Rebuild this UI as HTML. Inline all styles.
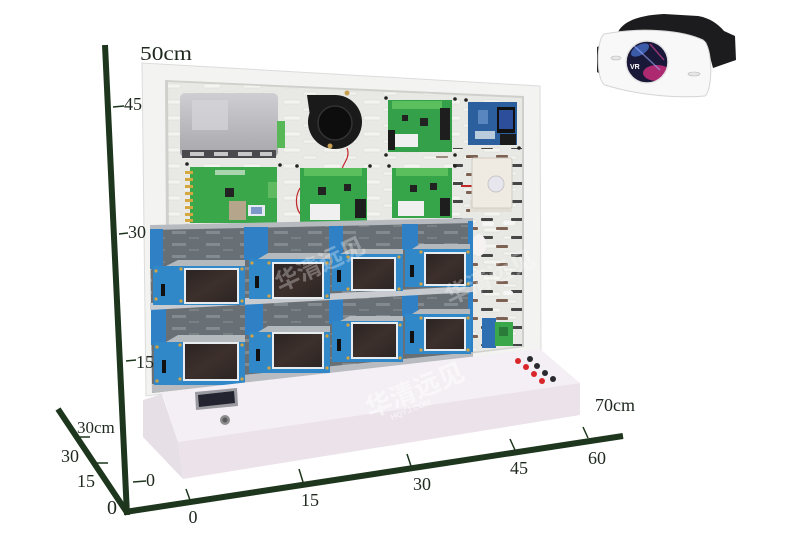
<!DOCTYPE html>
<html><head><meta charset="utf-8"><style>
html,body{margin:0;padding:0;background:#fff;width:800px;height:542px;overflow:hidden}
svg{display:block}
.ax{font-family:"Liberation Serif","Noto Serif CJK SC",serif;fill:#1f291f}
.wm{font-family:"Liberation Sans","Noto Sans CJK SC",sans-serif;font-weight:bold;fill:#ffffff}
</style></head><body>
<svg width="800" height="542" viewBox="0 0 800 542" xmlns="http://www.w3.org/2000/svg">
<defs>
<pattern id="lslot" width="40" height="16" patternUnits="userSpaceOnUse">
<rect x="3" y="4" width="18" height="4" rx="2" fill="#f3f3ef" stroke="#d8d8d4" stroke-width="0.5"/>
<rect x="23" y="12" width="14" height="3" rx="1.5" fill="#f3f3ef" stroke="#d8d8d4" stroke-width="0.5"/>
</pattern>
<pattern id="dslot" width="30" height="18" patternUnits="userSpaceOnUse">
<rect x="1" y="2" width="12" height="3" rx="1" fill="#2a2a2a"/>
<rect x="16" y="11" width="12" height="3" rx="1" fill="#6a4a3a"/>
</pattern>
<pattern id="rslot" width="34" height="12" patternUnits="userSpaceOnUse">
<rect x="2" y="3" width="14" height="3" fill="#b9bec2"/>
<rect x="19" y="9" width="10" height="2" fill="#9aa0a4"/>
</pattern>
<linearGradient id="box" x1="0" y1="0" x2="0" y2="1">
<stop offset="0" stop-color="#cfcfd3"/><stop offset="1" stop-color="#a6a6ab"/>
</linearGradient>
<linearGradient id="scr" x1="0" y1="0" x2="1" y2="1">
<stop offset="0" stop-color="#2a2322"/><stop offset="0.5" stop-color="#3d302c"/><stop offset="1" stop-color="#2b2523"/>
</linearGradient>
<clipPath id="lens"><circle cx="647" cy="62" r="21"/></clipPath>
</defs>

<!-- VR headset -->
<path d="M618,32 C624,20 642,15 664,14 L698,16 C710,18 718,24 724,31 L735,36 L736,60 L713,68 L706,42 Z" fill="#1c1c1e"/>
<path d="M597,47 L604,44 L604,76 L597,72 Z" fill="#2a2a2a"/>
<path d="M604,34 C640,27 682,30 703,40 C713,46 713,90 705,96 C670,99 630,93 605,85 C596,81 596,40 604,34 Z" fill="#f8f8f8" stroke="#d4d4d4" stroke-width="1"/>
<circle cx="647" cy="62" r="21" fill="#191838"/>
<g clip-path="url(#lens)">
<ellipse cx="657" cy="73" rx="14" ry="8" fill="#d2307f" opacity="0.8"/>
<ellipse cx="640" cy="50" rx="10" ry="5" fill="#4a78d8" opacity="0.7" transform="rotate(-30 640 50)"/>
<path d="M632,44 L660,70" stroke="#9ab0ff" stroke-width="1.5" opacity="0.6"/>
<path d="M650,44 L664,60" stroke="#e04a9a" stroke-width="1.5" opacity="0.6"/>
</g>
<circle cx="647" cy="62" r="21" fill="none" stroke="#e4e4e4" stroke-width="1.5"/>
<text x="630" y="69" font-family="Liberation Sans, sans-serif" font-size="7" font-weight="bold" fill="#fff">VR</text>
<ellipse cx="616" cy="58" rx="5" ry="2" fill="#e6e6e6" stroke="#bbb" stroke-width="0.6"/>
<ellipse cx="694" cy="74" rx="6" ry="2" fill="#e6e6e6" stroke="#bbb" stroke-width="0.6"/>

<!-- Frame -->
<polygon points="142,63 540,86 541,350 146,396" fill="#f3f3f1" stroke="#dcdcdc" stroke-width="1"/>
<polygon points="165,80 524,96 524,347 167,391" fill="#cfcfcc"/>
<polygon points="168,82 522,98 522,346 170,388" fill="#e8e8e4"/>
<polygon points="168,82 522,98 522,346 170,388" fill="url(#lslot)"/>
<rect x="453" y="148" width="69" height="198" fill="url(#dslot)" opacity="0.85"/>
<rect x="420" y="156" width="50" height="8" fill="url(#dslot)" opacity="0.6"/>

<!-- Gray box -->
<rect x="180" y="93" width="98" height="64" rx="5" fill="url(#box)"/>
<rect x="192" y="100" width="36" height="30" fill="#d6d6da" opacity="0.7"/>
<rect x="182" y="150" width="94" height="8" fill="#4a4a4e"/>
<rect x="190" y="152" width="14" height="4" fill="#c8c8c8"/>
<rect x="214" y="152" width="14" height="4" fill="#c8c8c8"/>
<rect x="238" y="152" width="14" height="4" fill="#c8c8c8"/>
<rect x="260" y="152" width="12" height="4" fill="#c8c8c8"/>
<rect x="277" y="121" width="8" height="27" fill="#58b858"/>

<!-- Fan -->
<polygon points="307,95 336,95 336,122 310,116" fill="#1a1a1a"/>
<circle cx="335" cy="122" r="27" fill="#1a1a1a"/>
<circle cx="335" cy="123" r="17" fill="#0d0d0d" stroke="#333" stroke-width="1.5"/>
<circle cx="347" cy="93" r="2.5" fill="#c8a050"/>
<circle cx="330" cy="146" r="2.5" fill="#c8a050"/>
<path d="M347,148 C351,158 342,164 342,170" stroke="#c0282a" stroke-width="1.2" fill="none"/>

<!-- Green board A (top) -->
<rect x="388" y="100" width="64" height="52" fill="#34a04a"/>
<rect x="392" y="101" width="50" height="8" fill="#5cbf5e"/>
<rect x="394" y="134" width="24" height="13" fill="#f0f0f0"/>
<rect x="420" y="118" width="8" height="8" fill="#222"/>
<rect x="402" y="115" width="6" height="6" fill="#222"/>
<rect x="440" y="108" width="10" height="32" fill="#1e1e1e"/>
<rect x="388" y="130" width="7" height="20" fill="#1a1a1a"/>
<!-- Blue board -->
<rect x="468" y="102" width="49" height="43" fill="#2c5f9e"/>
<rect x="497" y="107" width="18" height="26" fill="#111"/>
<rect x="499" y="110" width="14" height="19" fill="#2d4e9a"/>
<rect x="500" y="134" width="16" height="11" fill="#1a1a1a"/>
<rect x="475" y="131" width="20" height="8" fill="#dfe6ee" opacity="0.8"/>
<rect x="478" y="110" width="10" height="14" fill="#5a86c0"/>
<!-- Board B -->
<rect x="190" y="167" width="87" height="56" fill="#3aa84a"/>
<g fill="#d4a840">
<rect x="185" y="171" width="8" height="3"/><rect x="185" y="178" width="8" height="3"/><rect x="185" y="185" width="8" height="3"/>
<rect x="185" y="192" width="8" height="3"/><rect x="185" y="199" width="8" height="3"/><rect x="185" y="206" width="8" height="3"/>
<rect x="185" y="213" width="8" height="3"/><rect x="185" y="219" width="8" height="3"/>
</g>
<rect x="229" y="201" width="17" height="19" fill="#b5a58a"/>
<rect x="248" y="205" width="17" height="11" fill="#e4eaf0"/>
<rect x="251" y="207" width="11" height="7" fill="#7c98c8"/>
<rect x="225" y="188" width="9" height="9" fill="#222"/>
<rect x="268" y="182" width="9" height="16" fill="#60bb60"/>
<rect x="215" y="170" width="30" height="5" fill="#d8e8d8" opacity="0.7"/>
<!-- Board C -->
<path d="M300,188 C294,198 296,212 303,216" stroke="#c0282a" stroke-width="1.2" fill="none"/>
<rect x="300" y="168" width="67" height="54" fill="#36a449"/>
<rect x="304" y="168" width="58" height="8" fill="#5cbf5e"/>
<rect x="310" y="204" width="30" height="16" fill="#f0f0f0"/>
<rect x="318" y="187" width="8" height="8" fill="#222"/>
<rect x="344" y="184" width="7" height="7" fill="#222"/>
<rect x="355" y="199" width="11" height="19" fill="#1e1e1e"/>
<!-- Board D -->
<rect x="392" y="168" width="60" height="50" fill="#36a449"/>
<rect x="396" y="168" width="52" height="8" fill="#5cbf5e"/>
<rect x="398" y="201" width="26" height="15" fill="#f0f0f0"/>
<rect x="410" y="185" width="7" height="7" fill="#222"/>
<rect x="430" y="183" width="7" height="7" fill="#222"/>
<rect x="440" y="198" width="10" height="18" fill="#1e1e1e"/>
<!-- White sensor -->
<path d="M461,186 L474,186" stroke="#c0282a" stroke-width="2"/>
<rect x="470" y="200" width="42" height="12" fill="#e2ded6"/>
<rect x="472" y="158" width="40" height="50" rx="2" fill="#efebe3" stroke="#d0ccc2" stroke-width="1"/>
<circle cx="496" cy="184" r="8" fill="#e6e6ec" stroke="#c6c6cc" stroke-width="1"/>
<!-- screws -->
<g fill="#222">
<circle cx="386" cy="98" r="1.8"/><circle cx="455" cy="99" r="1.8"/><circle cx="386" cy="155" r="1.8"/><circle cx="455" cy="155" r="1.8"/>
<circle cx="187" cy="164" r="1.8"/><circle cx="280" cy="165" r="1.8"/><circle cx="187" cy="226" r="1.8"/><circle cx="281" cy="226" r="1.8"/>
<circle cx="297" cy="166" r="1.8"/><circle cx="370" cy="166" r="1.8"/><circle cx="389" cy="166" r="1.8"/><circle cx="455" cy="166" r="1.8"/>
<circle cx="466" cy="100" r="1.8"/><circle cx="519" cy="148" r="1.8"/>
</g>

<!-- Right side extras -->
<ellipse cx="479" cy="245" rx="7" ry="11" fill="#f6f2f2"/>
<rect x="482" y="318" width="14" height="30" fill="#2d6fb0"/>
<rect x="495" y="322" width="18" height="24" fill="#3aa84a"/>
<rect x="499" y="327" width="9" height="9" fill="#2a7a3a"/>
<rect x="482" y="222" width="12" height="4" rx="2" fill="#f6f6f6"/>
<rect x="503" y="221" width="12" height="4" rx="2" fill="#f6f6f6"/>
<rect x="503" y="291" width="10" height="4" rx="2" fill="#f6f6f6"/>

<!-- Rack -->
<polygon points="150,228 473,221 473,358 152,393" fill="#687075"/>
<polygon points="150,228 473,221 473,358 152,393" fill="url(#rslot)" opacity="0.35"/>
<polygon points="150,225 473,218 473,223 150,230" fill="#b7bbbf"/>
<g fill="#2f80c4">
<rect x="150" y="229" width="13" height="40"/><rect x="244" y="227" width="24" height="33"/>
<rect x="329" y="226" width="14" height="31"/><rect x="402" y="224" width="16" height="26"/>
<rect x="151" y="309" width="15" height="36"/><rect x="245" y="304" width="18" height="31"/>
<rect x="329" y="296" width="14" height="28"/><rect x="402" y="291" width="16" height="26"/>
<rect x="468" y="221" width="5" height="136"/>
</g>
<polygon points="150,303 473,286 473,292 150,310" fill="#c8ccd0"/>
<polygon points="152,384 473,352 473,358 152,393" fill="#b8bcc0"/>
<!-- module lids -->
<g fill="#b4b9bd">
<polygon points="166,266 178,260 245,260 245,266"/>
<polygon points="258,259 268,253 330,253 330,259"/>
<polygon points="340,254 350,249 403,249 403,254"/>
<polygon points="412,249 420,244 470,244 470,249"/>
<polygon points="166,342 178,335 245,335 245,342"/>
<polygon points="258,332 268,326 330,326 330,332"/>
<polygon points="340,321 350,316 403,316 403,321"/>
<polygon points="412,314 420,309 470,309 470,314"/>
</g>
<!-- blue fronts -->
<g fill="#3188c9">
<rect x="153" y="266" width="92" height="39"/>
<rect x="249" y="259" width="81" height="40"/>
<rect x="332" y="254" width="71" height="37"/>
<rect x="405" y="249" width="66" height="38"/>
<rect x="154" y="342" width="91" height="43"/>
<rect x="249" y="332" width="81" height="41"/>
<rect x="332" y="321" width="71" height="41"/>
<rect x="405" y="314" width="66" height="40"/>
</g>
<g fill="url(#scr)" stroke="#e6ecf0" stroke-width="2">
<rect x="185" y="269" width="53" height="34"/>
<rect x="273" y="263" width="50" height="35"/>
<rect x="352" y="258" width="43" height="32"/>
<rect x="425" y="253" width="40" height="32"/>
<rect x="184" y="343" width="54" height="37"/>
<rect x="273" y="333" width="50" height="35"/>
<rect x="352" y="323" width="45" height="35"/>
<rect x="425" y="318" width="40" height="32"/>
</g>
<g fill="#111">
<rect x="161" y="284" width="4" height="12"/><rect x="255" y="276" width="4" height="12"/>
<rect x="337" y="270" width="4" height="12"/><rect x="410" y="265" width="4" height="12"/>
<rect x="162" y="360" width="4" height="13"/><rect x="256" y="349" width="4" height="12"/>
<rect x="337" y="339" width="4" height="12"/><rect x="410" y="331" width="4" height="12"/>
</g>
<g fill="#d2a444">
<circle cx="156" cy="271" r="1.6"/><circle cx="181" cy="269" r="1.6"/><circle cx="242" cy="269" r="1.6"/><circle cx="181" cy="301" r="1.6"/><circle cx="242" cy="301" r="1.6"/><circle cx="156" cy="299" r="1.6"/>
<circle cx="252" cy="263" r="1.6"/><circle cx="269" cy="263" r="1.6"/><circle cx="327" cy="263" r="1.6"/><circle cx="269" cy="296" r="1.6"/><circle cx="327" cy="296" r="1.6"/>
<circle cx="348" cy="257" r="1.6"/><circle cx="399" cy="257" r="1.6"/><circle cx="348" cy="289" r="1.6"/><circle cx="399" cy="289" r="1.6"/>
<circle cx="421" cy="252" r="1.6"/><circle cx="468" cy="252" r="1.6"/><circle cx="421" cy="284" r="1.6"/><circle cx="468" cy="284" r="1.6"/>
<circle cx="157" cy="347" r="1.6"/><circle cx="180" cy="345" r="1.6"/><circle cx="242" cy="345" r="1.6"/><circle cx="180" cy="379" r="1.6"/><circle cx="242" cy="379" r="1.6"/><circle cx="157" cy="381" r="1.6"/>
<circle cx="252" cy="336" r="1.6"/><circle cx="269" cy="336" r="1.6"/><circle cx="327" cy="336" r="1.6"/><circle cx="269" cy="368" r="1.6"/><circle cx="327" cy="368" r="1.6"/>
<circle cx="348" cy="325" r="1.6"/><circle cx="400" cy="325" r="1.6"/><circle cx="348" cy="358" r="1.6"/><circle cx="400" cy="358" r="1.6"/>
<circle cx="421" cy="318" r="1.6"/><circle cx="468" cy="318" r="1.6"/><circle cx="421" cy="350" r="1.6"/><circle cx="468" cy="350" r="1.6"/>
</g>

<!-- Base -->
<polygon points="143,400 162,394 178,442 183,479 143,437" fill="#e7dfe6"/>
<polygon points="162,392 540,349 580,383 178,442" fill="#f4eff4"/>
<polygon points="178,442 580,383 580,415 183,479" fill="#ebe2ea"/>
<polygon points="195,392 237,388 238,406 196,410" fill="#9a9aa0"/>
<polygon points="198,395 234,391 235,403 199,407" fill="#23242f"/>
<circle cx="225" cy="420" r="5" fill="#8c8c8e"/>
<circle cx="225" cy="420" r="2.5" fill="#5a5a5c"/>
<g fill="#d8262a">
<circle cx="518" cy="361" r="3"/><circle cx="526" cy="367" r="3"/><circle cx="534" cy="374" r="3"/><circle cx="542" cy="381" r="3"/>
</g>
<g fill="#2a2a2e">
<circle cx="530" cy="359" r="3"/><circle cx="537" cy="366" r="3"/><circle cx="545" cy="373" r="3"/><circle cx="553" cy="379" r="3"/>
</g>

<!-- Watermarks -->
<text class="wm" x="280" y="292" font-size="24" opacity="0.3" transform="rotate(-25 280 292)">华清远见</text>
<text class="wm" x="450" y="305" font-size="24" opacity="0.28" transform="rotate(-25 450 305)">华清远见</text>
<text class="wm" x="370" y="418" font-size="26" opacity="0.55" transform="rotate(-22 370 418)">华清远见</text>
<text class="wm" x="392" y="420" font-size="8" opacity="0.55" transform="rotate(-22 392 420)">HQYJ.COM</text>

<!-- Axes -->
<g stroke="#1d361d" stroke-width="6" fill="none">
<line x1="105" y1="45" x2="127" y2="515"/>
<line x1="58" y1="409" x2="128" y2="514"/>
<line x1="125" y1="512" x2="623" y2="436"/>
</g>
<g stroke="#1d361d" stroke-width="1.5">
<line x1="113" y1="107" x2="124" y2="106"/>
<line x1="119" y1="234" x2="128" y2="233"/>
<line x1="126" y1="361" x2="136" y2="360"/>
<line x1="133" y1="482" x2="146" y2="481"/>
<line x1="78" y1="437" x2="90" y2="437"/>
<line x1="95" y1="463" x2="108" y2="463"/>
<line x1="186" y1="489" x2="190" y2="500"/>
<line x1="299" y1="469" x2="303" y2="482"/>
<line x1="407" y1="454" x2="411" y2="466"/>
<line x1="510" y1="439" x2="515" y2="450"/>
<line x1="583" y1="427" x2="588" y2="438"/>
</g>
<text class="ax" x="140" y="60" font-size="20" textLength="52" lengthAdjust="spacingAndGlyphs">50cm</text>
<text class="ax" x="124" y="110" font-size="18">45</text>
<text class="ax" x="128" y="238" font-size="18">30</text>
<text class="ax" x="136" y="368" font-size="18">15</text>
<text class="ax" x="146" y="486" font-size="18">0</text>
<text class="ax" x="77" y="433" font-size="17">30cm</text>
<text class="ax" x="61" y="462" font-size="18">30</text>
<text class="ax" x="77" y="487" font-size="18">15</text>
<text class="ax" x="107" y="514" font-size="20">0</text>
<text class="ax" x="193" y="523" font-size="18" text-anchor="middle">0</text>
<text class="ax" x="310" y="506" font-size="18" text-anchor="middle">15</text>
<text class="ax" x="422" y="490" font-size="18" text-anchor="middle">30</text>
<text class="ax" x="519" y="474" font-size="18" text-anchor="middle">45</text>
<text class="ax" x="597" y="464" font-size="18" text-anchor="middle">60</text>
<text class="ax" x="595" y="411" font-size="18">70cm</text>
</svg>
</body></html>
